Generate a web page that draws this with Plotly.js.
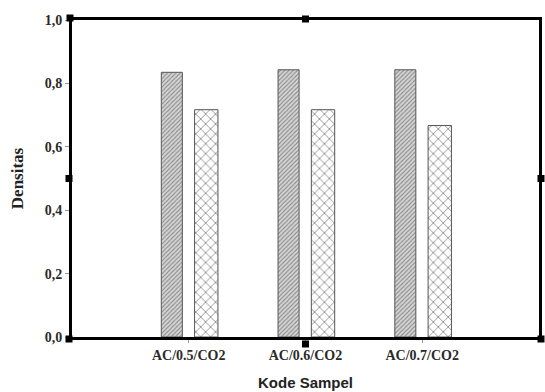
<!DOCTYPE html>
<html>
<head>
<meta charset="utf-8">
<script src="https://cdn.plot.ly/plotly-3.0.1.min.js"></script>
<style>html,body{margin:0;padding:0;background:#fff;}#chart{width:545px;height:392px;}</style>
</head>
<body>
<div id="chart"></div>
<script>
var categories = ["AC/0.5/CO2", "AC/0.6/CO2", "AC/0.7/CO2"];
var categoryPositions = [1, 2, 3];
var seriesA = [0.835, 0.843, 0.843];
var seriesB = [0.717, 0.717, 0.667];
var yTickVals = [0, 0.2, 0.4, 0.6, 0.8, 1.0];

var serif = "Liberation Serif, Times New Roman, serif";
var sans = "Liberation Sans, Arial, sans-serif";

var traceA = {
  type: "bar", x: categoryPositions, y: seriesA,
  width: 0.18, offset: -0.235,
  marker: {
    color: "#cfcfcf",
    line: {color: "#555", width: 1},
    pattern: {shape: "/", fgcolor: "#888", bgcolor: "#d6d6d6", size: 3, solidity: 0.35}
  },
  showlegend: false, hoverinfo: "skip"
};
var traceB = {
  type: "bar", x: categoryPositions, y: seriesB,
  width: 0.2, offset: 0.05,
  marker: {
    color: "#ffffff",
    line: {color: "#555", width: 1},
    pattern: {shape: "x", fgcolor: "#666", bgcolor: "#ffffff", size: 7, solidity: 0.18}
  },
  showlegend: false, hoverinfo: "skip"
};

function sq(x, y, dx, dy) {
  return {type: "rect", xref: "paper", yref: "paper",
    xsizemode: "pixel", ysizemode: "pixel", xanchor: x, yanchor: y,
    x0: dx - 3.5, x1: dx + 3.5, y0: dy - 3.5, y1: dy + 3.5, fillcolor: "#000", line: {width: 0}};
}
var handles = [
  sq(0, 1, -2, 2), sq(0.5, 1, 0, 1), sq(0, 0.5, -3, 0), sq(1, 0.5, 2, 0),
  sq(0, 0, -3, -2), sq(1, 0, 2, -2), sq(0.5, 0, 0, -7)
];

var layout = {
  width: 545, height: 392,
  margin: {l: 72, r: 6, t: 20, b: 55, pad: 0},
  paper_bgcolor: "#fff", plot_bgcolor: "#fff",
  separators: ",.",
  xaxis: {
    range: [0, 4], tickvals: categoryPositions, ticktext: categories,
    showgrid: false, zeroline: false,
    showline: true, linecolor: "#000", linewidth: 3, mirror: true,
    ticks: "outside", ticklen: 3, tickcolor: "#999", tickwidth: 1,
    tickfont: {family: serif, size: 14, color: "#2a2a2a", weight: "bold"},
    title: {text: "Kode Sampel", font: {family: sans, size: 15, color: "#222", weight: "bold"}, standoff: 16}
  },
  yaxis: {
    range: [0, 1.0], tickvals: yTickVals, tickformat: ".1f",
    showgrid: false, zeroline: false,
    showline: true, linecolor: "#000", linewidth: 3, mirror: true,
    ticks: "outside", ticklen: 4, tickcolor: "#999", tickwidth: 1,
    tickfont: {family: serif, size: 14, color: "#2a2a2a", weight: "bold"},
    title: {text: "Densitas", font: {family: serif, size: 17, color: "#222", weight: "bold"}, standoff: 17}
  },
  shapes: handles
};

Plotly.newPlot("chart", [traceA, traceB], layout, {displayModeBar: false, staticPlot: true});
</script>
</body>
</html>
